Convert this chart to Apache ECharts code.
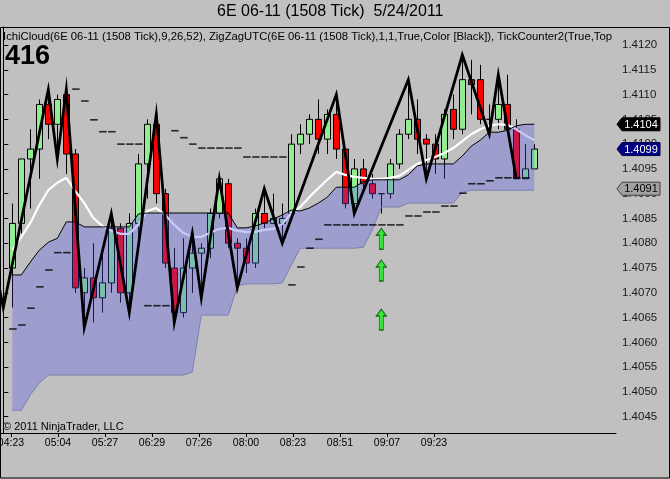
<!DOCTYPE html>
<html><head><meta charset="utf-8">
<script src="https://cdn.jsdelivr.net/npm/echarts@6/dist/echarts.min.js"></script>
<style>html,body{margin:0;padding:0;background:#c0c0c0;} #c{width:670px;height:479px;}</style>
</head><body><div id="c"></div>
<script>
// ---- tick labels (time axis) ----
const timeLabels = ['04:23','05:04','05:27','06:29','07:26','08:00','08:23','08:51','09:07','09:23'];

// ---- candles, index = bar number (bar 0 has no visible candle) ----
const openP = [null,
 1.4075,1.4084,1.4097,1.4099,1.4108,1.4104,1.4110,1.4098,1.4070,1.4073,
 1.4069,1.4072,1.4083,1.4070,1.4084,1.4096,1.4104,1.4090,1.4075,1.4066,
 1.4075,1.4078,1.4079,1.4086,1.4092,1.4080,1.4079,1.4076,1.4086,1.4084,
 1.4084,1.4086,1.4100,1.4102,1.4105,1.4101,1.4106,1.4099,1.4088,1.4095,
 1.4092,1.4090,1.4090,1.4096,1.4102,1.4105,1.4101,1.4100,1.4097,1.4107,
 1.4103,1.4113,1.4113,1.4105,1.4105,1.4108,1.4103,1.4093,1.4095];
const highP = [null,
 1.4088,1.4097,1.4103,1.4109,1.4111,1.4110,1.4111,1.4099,1.4075,1.4080,
 1.4079,1.4086,1.4084,1.4086,1.4098,1.4105,1.4106,1.4091,1.4079,1.4081,
 1.4082,1.4080,1.4087,1.4093,1.4093,1.4081,1.4081,1.4087,1.4091,1.4090,
 1.4088,1.4102,1.4104,1.4106,1.4109,1.4107,1.4110,1.4099,1.4097,1.4097,
 1.4094,1.4090,1.4097,1.4103,1.4113,1.4109,1.4102,1.4102,1.4107,1.4110,
 1.4118,1.4117,1.4116,1.4108,1.4114,1.4114,1.4105,1.4100,1.4100];
const lowP = [null,
 1.4067,1.4082,1.4087,1.4093,1.4101,1.4097,1.4094,1.4070,1.4063,1.4064,
 1.4066,1.4070,1.4068,1.4066,1.4081,1.4089,1.4088,1.4075,1.4064,1.4065,
 1.4070,1.4069,1.4077,1.4085,1.4079,1.4071,1.4074,1.4075,1.4083,1.4084,
 1.4080,1.4085,1.4098,1.4100,1.4098,1.4098,1.4097,1.4087,1.4086,1.4091,
 1.4089,1.4086,1.4089,1.4095,1.4101,1.4098,1.4093,1.4094,1.4093,1.4101,
 1.4102,1.4106,1.4104,1.4102,1.4103,1.4103,1.4093,1.4093,1.4095];
const closeP = [null,
 1.4084,1.4097,1.4099,1.4108,1.4104,1.4109,1.4098,1.4071,1.4073,1.4069,
 1.4072,1.4083,1.4070,1.4084,1.4096,1.4104,1.4090,1.4076,1.4066,1.4075,
 1.4078,1.4079,1.4086,1.4093,1.4080,1.4079,1.4076,1.4086,1.4084,1.4085,
 1.4085,1.4100,1.4102,1.4105,1.4101,1.4106,1.4099,1.4088,1.4095,1.4092,
 1.4090,1.4090,1.4096,1.4102,1.4105,1.4101,1.4100,1.4097,1.4106,1.4103,
 1.4113,1.4112,1.4105,1.4105,1.4108,1.4103,1.4093,1.4095,1.4099];

// ---- Ichimoku cloud edges ----
const spanA = [null,
 1.40736,1.40736,1.40762,1.40786,1.40802,1.40810,1.40843,1.40843,1.40833,1.40833,
 1.40833,1.40833,1.40833,1.40833,1.40859,1.40861,1.40861,1.40861,1.40861,1.40861,
 1.40861,1.40861,1.40861,1.40861,1.40861,1.40831,1.40831,1.40835,1.40841,1.40849,
 1.40857,1.40867,1.40865,1.40871,1.40881,1.40893,1.40913,1.40913,1.40913,1.40924,
 1.40928,1.40928,1.40928,1.40928,1.40938,1.40956,1.40960,1.40960,1.40960,1.40960,
 1.40976,1.40996,1.41008,1.41024,1.41024,1.41028,1.41037,1.41040,1.41040];
const spanB = [null,
 1.40463,1.40463,1.40494,1.40518,1.40534,1.40534,1.40534,1.40534,1.40534,1.40534,
 1.40534,1.40534,1.40534,1.40534,1.40534,1.40534,1.40534,1.40534,1.40534,1.40534,
 1.40540,1.40655,1.40655,1.40655,1.40655,1.40714,1.40718,1.40718,1.40718,1.40718,
 1.40720,1.40756,1.40790,1.40790,1.40790,1.40790,1.40790,1.40790,1.40790,1.40792,
 1.40827,1.40873,1.40873,1.40873,1.40881,1.40881,1.40881,1.40881,1.40881,1.40881,
 1.40903,1.40907,1.40907,1.40907,1.40907,1.40907,1.40907,1.40907,1.40907];
// ---- white base line ----
const whiteLine = [null,
 1.40786,1.40813,1.40841,1.40877,1.40907,1.40922,1.40932,1.40905,1.40881,1.40851,
 1.40835,1.40825,1.40819,1.40819,1.40837,1.40865,1.40871,1.40857,1.40837,1.40821,
 1.40813,1.40813,1.40821,1.40829,1.40831,1.40825,1.40823,1.40823,1.40827,1.40829,
 1.40839,1.40861,1.40873,1.40893,1.40911,1.40928,1.40944,1.40938,1.40934,1.40932,
 1.40930,1.40930,1.40932,1.40936,1.40948,1.40960,1.40968,1.40974,1.40982,1.40992,
 1.41006,1.41020,1.41030,1.41037,1.41040,1.41039,1.41030,1.41018,1.41008];
// ---- dashed stop level (one dash per bar) ----
const stopLevel = [null,
 1.40627,1.40635,1.40669,1.40712,1.40746,1.40781,1.40781,1.41111,1.41087,1.41049,
 1.41025,1.41025,1.41000,1.41000,1.41000,1.40674,1.40674,1.40674,1.41027,1.41013,
 1.41000,1.40992,1.40992,1.40992,1.40992,1.40992,1.40974,1.40974,1.40974,1.40974,
 1.40974,1.40716,1.40752,1.40790,1.40808,1.40837,1.40837,1.40837,1.40837,1.40837,
 1.40837,1.40837,1.40837,1.40837,1.40855,1.40855,1.40863,1.40863,1.40875,1.40875,
 1.40901,1.40920,1.40920,1.40926,1.40932,1.40932,1.40932,1.40932,null];
// ---- zigzag pivots ----
const zigBars   = [-2,0,5,6,7,9,12,14,17,19,21,22,24,26,29,31,37,39,45,47,51,54,55,57];
const zigPrices = [1.4085,1.4067,1.4111,1.4097,1.4111,1.4063,1.4086,1.4066,1.4106,1.4064,1.4082,1.4069,
                   1.4093,1.4071,1.4091,1.4080,1.4110,1.4086,1.4113,1.4093,1.4118,1.4102,1.4114,1.4093];
// ---- signal arrows ----
const arrowBars = [42,42,42];
const arrowPrices = [1.40809,1.40745,1.40646];
// ---- right-axis price markers ----
const tagPrices = [1.4104,1.4099,1.4091];

const FONT = "'Liberation Sans', Arial, sans-serif";
const tagFill = ['#000000','#000080','#a2a2a2'];
const tagStroke = ['#000000','#000040','#404040'];
const tagTextColor = ['#ffffff','#ffffff','#000000'];

const candleData = [];
for (let i = 0; i < openP.length; i++) if (openP[i] != null) candleData.push([i, openP[i], closeP[i], lowP[i], highP[i]]);
const pairs = arr => arr.map((v, i) => v == null ? null : [i, v]).filter(Boolean);

const chart = echarts.init(document.getElementById('c'), null, {renderer: 'canvas', width: 670, height: 479});
chart.setOption({
  animation: false,
  backgroundColor: '#c0c0c0',
  textStyle: {fontFamily: FONT},
  title: [
    {text: '6E 06-11 (1508 Tick)  5/24/2011', left: 217, top: 4, padding: 0,
     textStyle: {fontSize: 16, fontWeight: 'normal', color: '#000', fontFamily: FONT}},
    {text: 'IchiCloud(6E 06-11 (1508 Tick),9,26,52), ZigZagUTC(6E 06-11 (1508 Tick),1,1,True,Color [Black]), TickCounter2(True,Top,Tick Count)',
     left: 3, top: 31, padding: 0,
     textStyle: {fontSize: 11.3, fontWeight: 'normal', color: '#000', fontFamily: FONT, width: 611, overflow: 'truncate', ellipsis: ''}},
    {text: '416', left: 5, top: 43, padding: 0,
     textStyle: {fontSize: 27, fontWeight: 'bold', color: '#000', fontFamily: FONT}},
    {text: '\u00A9 2011 NinjaTrader, LLC', left: 3, top: 421, padding: 0,
     textStyle: {fontSize: 11, fontWeight: 'normal', color: '#000', fontFamily: FONT}}
  ],
  grid: [
    {left: 0, right: 54, top: 27, bottom: 46, containLabel: false, outerBoundsMode: 'none', show: false},
    {left: 11, right: 236, top: 27, bottom: 46, containLabel: false, outerBoundsMode: 'none', show: false}
  ],
  xAxis: [
    {type: 'value', gridIndex: 0, min: -0.3667, max: 68.0778, position: 'bottom',
     axisLine: {show: true, onZero: false, lineStyle: {color: '#000', width: 1}},
     axisTick: {show: false}, axisLabel: {show: false}, splitLine: {show: false}},
    {type: 'value', gridIndex: 1, min: 0, max: 9, interval: 1, position: 'bottom',
     axisLine: {show: false, onZero: false},
     axisTick: {show: true, length: 4, lineStyle: {color: '#000'}},
     axisLabel: {margin: 5, fontSize: 10.5, color: '#000', fontFamily: FONT,
       formatter: v => { const k = Math.round(v); return (Math.abs(v - k) < 1e-6 && k >= 0 && k < timeLabels.length) ? timeLabels[k] : ''; }},
     splitLine: {show: false}}
  ],
  yAxis: [
    {type: 'value', gridIndex: 0, position: 'right', min: 1.404171, max: 1.412363,
     minInterval: 0.0005, maxInterval: 0.0005, splitNumber: 16,
     axisLine: {show: true, lineStyle: {color: '#000', width: 1}},
     axisTick: {show: true, length: 5, lineStyle: {color: '#000'}},
     axisLabel: {showMinLabel: false, showMaxLabel: false, margin: 6, color: '#1a1a1a', fontSize: 11.5, fontFamily: FONT,
       formatter: v => v.toFixed(4)},
     splitLine: {show: false}},
    {type: 'value', gridIndex: 1, show: false, min: 0, max: 1}
  ],
  graphic: [
    {type: 'rect', shape: {x: 0.5, y: 27.5, width: 669, height: 450.5}, style: {fill: 'none', stroke: '#000', lineWidth: 1}, z: 100, silent: true}
  ],
  series: [
    {type: 'candlestick', xAxisIndex: 0, yAxisIndex: 0, z: 2, barWidth: 6,
     encode: {x: 0, y: [1, 2, 3, 4]},
     itemStyle: {color: '#90ee90', color0: '#ff0000', borderColor: '#000', borderColor0: '#000', borderWidth: 1},
     data: candleData},
    {type: 'line', xAxisIndex: 0, yAxisIndex: 0, z: 3, symbol: 'none', data: pairs(whiteLine),
     lineStyle: {color: '#ffffff', width: 2.2}},
    {type: 'custom', xAxisIndex: 0, yAxisIndex: 0, z: 4, clip: false, silent: true,
     data: [[1, spanA[1]]],
     renderItem: (params, api) => {
       const top = [], bot = [];
       for (let i = 0; i < spanA.length; i++) {
         if (spanA[i] == null || spanB[i] == null) continue;
         top.push(api.coord([i, spanA[i]]));
         bot.push(api.coord([i, spanB[i]]));
       }
       return {type: 'polygon', shape: {points: top.concat(bot.reverse())}, style: {fill: 'rgba(80,80,238,0.30)'}};
     }},
    {type: 'line', xAxisIndex: 0, yAxisIndex: 0, z: 5, symbol: 'none', data: pairs(spanA), lineStyle: {color: '#000', width: 1}},
    {type: 'line', xAxisIndex: 0, yAxisIndex: 0, z: 5, symbol: 'none', data: pairs(spanB), lineStyle: {color: '#7e7eb0', width: 1}},
    {type: 'scatter', xAxisIndex: 0, yAxisIndex: 0, z: 6, symbol: 'rect', symbolSize: [7.5, 1.6], symbolOffset: [0.6, 0],
     itemStyle: {color: '#000'}, data: pairs(stopLevel)},
    {type: 'line', xAxisIndex: 0, yAxisIndex: 0, z: 7, symbol: 'none', data: zigBars.map((b, i) => [b, zigPrices[i]]),
     lineStyle: {color: '#000', width: 2.8, join: 'miter'}},
    {type: 'scatter', xAxisIndex: 0, yAxisIndex: 0, z: 8, symbol: 'path://M5,0 L10,7 L7,7 L7,21 L3,21 L3,7 L0,7 Z', symbolSize: [10, 21],
     itemStyle: {color: '#18ee18', borderColor: '#004a00', borderWidth: 1},
     data: arrowBars.map((b, i) => [b, arrowPrices[i]])},
    {type: 'custom', xAxisIndex: 0, yAxisIndex: 0, z: 9, clip: false, silent: true,
     data: tagPrices.map(p => [59, p]),
     renderItem: (params, api) => {
       const y = api.coord([0, api.value(1)])[1];
       const xr = params.coordSys.x + params.coordSys.width;
       const i = params.dataIndex;
       return {type: 'group', children: [
         {type: 'polygon', shape: {points: [[xr + 1, y], [xr + 6, y - 6.5], [xr + 44, y - 6.5], [xr + 44, y + 6.5], [xr + 6, y + 6.5]]},
          style: {fill: tagFill[i], stroke: tagStroke[i], lineWidth: 1}},
         {type: 'text', style: {text: tagPrices[i].toFixed(4), x: xr + 25, y: y + 0.5, align: 'center', verticalAlign: 'middle',
          fill: tagTextColor[i], font: '11px ' + FONT}}
       ]};
     }}
  ]
});
</script></body></html>
